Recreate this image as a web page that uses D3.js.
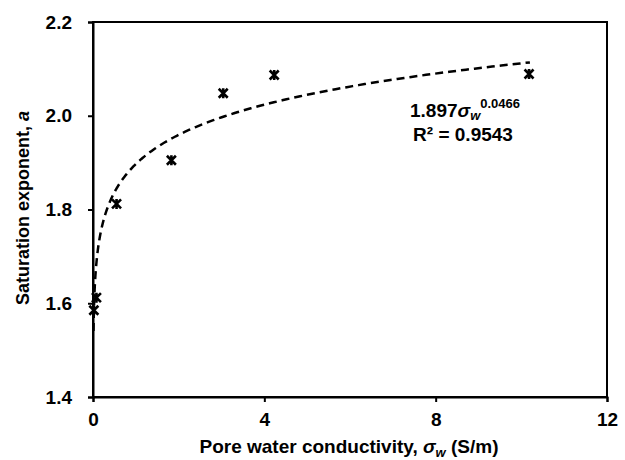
<!DOCTYPE html>
<html><head><meta charset="utf-8">
<script src="https://cdn.jsdelivr.net/npm/d3@7"></script>
<style>
body{margin:0;background:#fff;}
text{font-family:"Liberation Sans",Arial,sans-serif;font-weight:bold;fill:#000;}
</style></head>
<body><svg id="c" width="625" height="460"></svg>
<script>
// Data
const conductivity = [0.02, 0.08, 0.55, 1.83, 3.04, 4.23, 10.18];
const saturationExp = [1.585, 1.612, 1.812, 1.905, 2.048, 2.087, 2.089];
const xTicks = [0, 4, 8, 12];
const yTicks = [1.4, 1.6, 1.8, 2.0, 2.2];
// Power trendline shown in the chart: a = 1.897 * sigma^0.0466
const fitCoef = 1.897, fitExp = 0.0466, fitRange = [0.0115, 10.2];

const svg = d3.select("#c");
const L = 93, R = 607, T = 22, B = 397;
const x = d3.scaleLinear().domain([0, 12]).range([L, R]);
const y = d3.scaleLinear().domain([1.4, 2.2]).range([B, T]);

// frame
svg.append("rect").attr("x", L).attr("y", T).attr("width", R - L).attr("height", B - T)
  .attr("fill", "none").attr("stroke", "#000").attr("stroke-width", 2);

const xa = svg.append("g").attr("transform", `translate(0,${B})`)
  .call(d3.axisBottom(x).tickValues(xTicks).tickFormat(d3.format("d")).tickSize(5).tickPadding(11));
const ya = svg.append("g").attr("transform", `translate(${L},0)`)
  .call(d3.axisLeft(y).tickValues(yTicks).tickFormat(d3.format(".1f")).tickSize(5).tickPadding(16));
[xa, ya].forEach(g => {
  g.select(".domain").attr("stroke", "#000").attr("stroke-width", 2);
  g.selectAll(".tick line").attr("stroke", "#000").attr("stroke-width", 2);
  g.selectAll(".tick text").style("font-size", "19px").style("font-family", "Liberation Sans, Arial, sans-serif").style("font-weight", "bold");
});

// trendline
const fitPts = d3.range(0, 301).map(i => {
  const s = Math.exp(Math.log(fitRange[0]) + (Math.log(fitRange[1]) - Math.log(fitRange[0])) * i / 300);
  return [s, fitCoef * Math.pow(s, fitExp)];
});
svg.append("path").datum(fitPts)
  .attr("d", d3.line().x(d => x(d[0])).y(d => y(d[1])))
  .attr("fill", "none").attr("stroke", "#000").attr("stroke-width", 2.5)
  .attr("stroke-dasharray", "8,5");

// markers (star: x with vertical bar)
const m = svg.append("g");
conductivity.forEach((c, i) => {
  const cx = x(c), cy = y(saturationExp[i]), r = 4.5;
  m.append("path")
    .attr("d", `M${cx - r},${cy - r}L${cx + r},${cy + r}M${cx - r},${cy + r}L${cx + r},${cy - r}M${cx},${cy - r - 0.5}L${cx},${cy + r + 0.5}`)
    .attr("stroke", "#000").attr("stroke-width", 2.6).attr("fill", "none");
});

// equation annotation
const eq = svg.append("text").attr("x", 410).attr("y", 117).style("font-size", "19px");
eq.append("tspan").text("1.897");
eq.append("tspan").text("σ").style("font-style", "italic");
eq.append("tspan").text("w").style("font-style", "italic").style("font-size", "13px").attr("dy", 3);
eq.append("tspan").text("0.0466").style("font-size", "13px").attr("dy", -12);
svg.append("text").attr("x", 463).attr("y", 141).attr("text-anchor", "middle")
  .style("font-size", "19px").text("R² = 0.9543");

// axis titles
const xt = svg.append("text").attr("x", 349).attr("y", 453).attr("text-anchor", "middle").style("font-size", "19px");
xt.append("tspan").text("Pore water conductivity, ");
xt.append("tspan").text("σ").style("font-style", "italic");
xt.append("tspan").text("w").style("font-style", "italic").style("font-size", "13px").attr("dy", 4);
xt.append("tspan").text(" (S/m)").attr("dy", -4);

const yt = svg.append("text").attr("transform", "translate(29,208) rotate(-90)").attr("text-anchor", "middle").style("font-size", "18px");
yt.append("tspan").text("Saturation exponent, ");
yt.append("tspan").text("a").style("font-style", "italic");
</script></body></html>
